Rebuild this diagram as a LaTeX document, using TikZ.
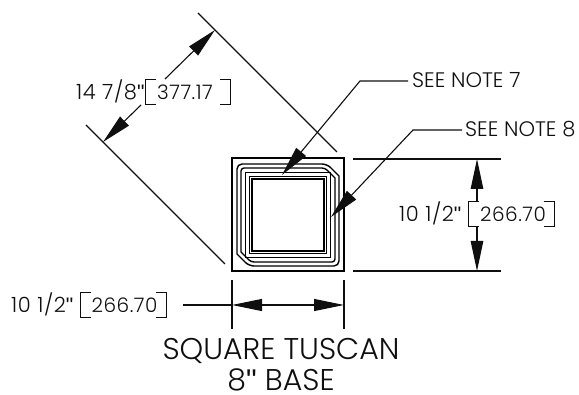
\documentclass[tikz,border=0pt]{standalone}
\usepackage{fontspec}
\setmainfont{Poppins Light}
\newfontfamily\quotefont{Liberation Sans}
\newcommand{\qmark}{{\quotefont\char"0022}}
\usetikzlibrary{arrows.meta}
\definecolor{ink}{RGB}{15,15,15}
\tikzset{
  dimline/.style={draw=ink,line width=1.1pt},
  profile/.style={draw=black,line width=1.4pt,line join=miter},
  lead/.style={dimline,{Triangle[length=30pt,width=12.5pt]}-},
  dimtxt/.style={anchor=base west,inner sep=0pt,text=ink,font=\fontsize{21}{21}\selectfont\addfontfeature{LetterSpace=3}},
  metrictxt/.style={anchor=base west,inner sep=0pt,text=ink,font=\fontsize{20}{20}\selectfont\addfontfeature{LetterSpace=2.5}},
  notetxt/.style={anchor=base west,inner sep=0pt,text=ink,font=\fontsize{21}{21}\selectfont},
  titletxt/.style={anchor=base,inner sep=0pt,text=ink,font=\fontsize{30}{30}\selectfont},
  bracket/.style={draw=ink,line width=1pt}
}
\newcommand{\chamfered}[3]{% half size, chamfer, radius
  \draw[profile,rounded corners=#3pt] (288-#1,215-#1+#2) -- (288-#1,215-#1) -- (288+#1-#2,215-#1)
     [sharp corners] -- (288+#1,215-#1+#2) [rounded corners=#3pt] -- (288+#1,215+#1) -- (288-#1+#2,215+#1)
     [sharp corners] -- (288-#1,215+#1-#2) -- cycle;}
\begin{document}
\begin{tikzpicture}[x=1pt,y=-1pt]
\useasboundingbox (0,0) rectangle (579,395);
% part
\node[draw=black,line width=1.4pt,minimum width=112pt,minimum height=113pt,inner sep=0pt] (outer) at (288,214.5) {};
\chamfered{51}{12}{5}
\chamfered{47}{10}{3}
\draw[profile] (288-42.5,215-42.5) rectangle (288+42.5,215+42.5);
\draw[profile] (288-38.5,215-38.5) rectangle (288+38.5,215+38.5);
\draw[profile] (288-36,215-36) rectangle (288+36,215+36);
% diagonal dimension
\coordinate (ua) at (198,13); \coordinate (ub) at (337,152);
\coordinate (la) at (86,125); \coordinate (lb) at (225,264);
\draw[dimline] (ua) -- (ub);
\draw[dimline] (la) -- (lb);
\coordinate (ut) at (215,30); \coordinate (ue) at (165,79);
\coordinate (lt) at (103,142); \coordinate (le) at (141,105);
\draw[lead] (ut) -- (ue);
\draw[lead] (lt) -- (le);
\node[dimtxt] (d1) at (76,100) {14 7/8\qmark};
\node[metrictxt] (d1m) at (157,100) {377.17};
\draw[bracket] (156,79.5) -- (145.5,79.5) -- (145.5,105) -- (156,105);
\draw[bracket] (220,79.5) -- (230.5,79.5) -- (230.5,105) -- (220,105);
% right dimension
\coordinate (ra) at (353,159); \coordinate (rb) at (501,159);
\coordinate (rc) at (353,271); \coordinate (rd) at (501,271);
\draw[dimline] (ra) -- (rb);
\draw[dimline] (rc) -- (rd);
\coordinate (rt) at (477,159); \coordinate (rte) at (477,202);
\coordinate (rl) at (477,271); \coordinate (rle) at (477,227);
\draw[lead] (rt) -- (rte);
\draw[lead] (rl) -- (rle);
\node[dimtxt] (d2) at (399,222) {10 1/2\qmark};
\node[metrictxt] (d2m) at (480,222) {266.70};
\draw[bracket] (479,202) -- (468.5,202) -- (468.5,227) -- (479,227);
\draw[bracket] (543.5,202) -- (554,202) -- (554,227) -- (543.5,227);
% bottom dimension
\coordinate (ba) at (232,280); \coordinate (bb) at (232,329);
\coordinate (bc) at (344,280); \coordinate (bd) at (344,329);
\draw[dimline] (ba) -- (bb);
\draw[dimline] (bc) -- (bd);
\coordinate (bl) at (232,305); \coordinate (bs) at (183,305); \coordinate (br) at (344,305);
\draw[dimline,{Triangle[length=30pt,width=12pt]}-{Triangle[length=30pt,width=12pt]}] (bl) -- (br);
\draw[dimline] (bs) -- (bl);
\node[dimtxt] (d3) at (11,313) {10 1/2\qmark};
\node[metrictxt] (d3m) at (91.5,313) {266.70};
\draw[bracket] (91,292.5) -- (80.5,292.5) -- (80.5,318) -- (91,318);
\draw[bracket] (155.5,292.5) -- (166,292.5) -- (166,318) -- (155.5,318);
% notes
\node[notetxt] (n7) at (412,88) {SEE NOTE 7};
\node[notetxt] (n8) at (465,137) {SEE NOTE 8};
\coordinate (n7t) at (282,175); \coordinate (n7e) at (360,81); \coordinate (n7h) at (408,81);
\coordinate (n8t) at (331,217); \coordinate (n8e) at (413,130); \coordinate (n8h) at (462,130);
\draw[lead] (n7t) -- (n7e) -- (n7h);
\draw[lead] (n8t) -- (n8e) -- (n8h);
% title
\node[titletxt] (t1) at (281,360) {SQUARE TUSCAN};
\node[titletxt] (t2) at (281,391) {8\qmark{} BASE};
\end{tikzpicture}
\end{document}
